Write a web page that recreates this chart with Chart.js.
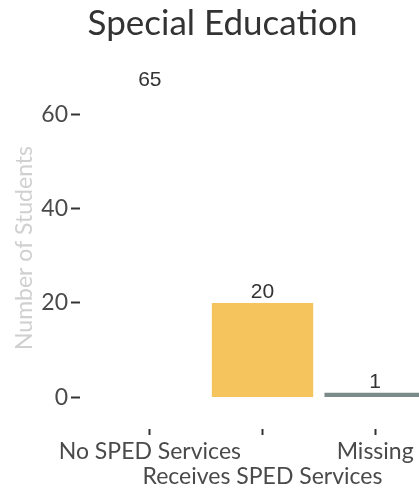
<!DOCTYPE html>
<html>
<head>
<meta charset="utf-8">
<script src="https://cdn.jsdelivr.net/npm/chart.js@4.4.0/dist/chart.umd.min.js"></script>
<style>
  html, body { margin: 0; padding: 0; background: #fff; overflow: hidden; }
  #wrap { position: absolute; left: 0; top: 0; width: 451px; height: 491px; }
</style>
</head>
<body>
<div id="wrap"><canvas id="spedChart"></canvas></div>
<script>
// data
var categories = ["No SPED Services", "Receives SPED Services", "Missing"];
var students = [65, 20, 1];
var barColors = ["#ffffff", "#f6c45c", "#7a8b89"];
var yTicks = [0, 20, 40, 60];

// value labels above the bars
var valueLabels = {
    id: "valueLabels",
    afterDatasetsDraw: function(chart) {
        var ctx = chart.ctx;
        var meta = chart.getDatasetMeta(0);
        ctx.save();
        ctx.font = "21px 'Liberation Sans', Arial, sans-serif";
        ctx.fillStyle = "#333333";
        ctx.textAlign = "center";
        ctx.textBaseline = "alphabetic";
        meta.data.forEach(function(bar, i) {
            ctx.fillText(students[i], bar.x, bar.y - 5);
        });
        ctx.restore();
    }
};

new Chart("spedChart", {
    type: "bar",
    data: {
        datasets: [{
            data: students.map(function(v, i) { return { x: i, y: v }; }),
            backgroundColor: barColors,
            barPercentage: 0.9,
            categoryPercentage: 1
        }]
    },
    options: {
        responsive: true,
        maintainAspectRatio: false,
        animation: false,
        layout: { padding: { left: 0, right: 6, top: 0, bottom: 0 } },
        plugins: {
            legend: { display: false },
            tooltip: { enabled: false },
            title: {
                display: true,
                text: "Special Education",
                color: "#333333",
                font: { family: "Lato", size: 35, weight: "normal" },
                padding: { top: 3, bottom: 22 }
            }
        },
        scales: {
            x: {
                type: "linear",
                offset: false,
                min: -0.62,
                max: 2.62,
                afterBuildTicks: function(scale) {
                    scale.ticks = categories.map(function(c, i) { return { value: i }; });
                },
                afterFit: function(scale) { scale.height = 62; },
                grid: { offset: false, drawOnChartArea: false, tickLength: 6, tickWidth: 2, tickColor: "#333333" },
                border: { display: false },
                ticks: {
                    autoSkip: false,
                    maxRotation: 0,
                    padding: 4,
                    color: "#4a4a4a",
                    font: { family: "Lato", size: 23, lineHeight: 1.087 },
                    callback: function(value) {
                        var name = categories[value];
                        return value % 2 === 1 ? ["", name] : name;
                    }
                }
            },
            y: {
                min: -6.7,
                max: 70,
                afterBuildTicks: function(scale) {
                    scale.ticks = yTicks.map(function(v) { return { value: v }; });
                },
                afterFit: function(scale) { scale.width = 80; },
                grid: { drawOnChartArea: false, tickLength: 9, tickWidth: 2, tickColor: "#333333" },
                border: { display: false },
                ticks: {
                    padding: 3,
                    color: "#4a4a4a",
                    font: { family: "Lato", size: 23 }
                },
                title: {
                    display: true,
                    text: "Number of Students",
                    color: "#d0d0d0",
                    font: { family: "Lato", size: 23 },
                    padding: { top: 11, bottom: 0 }
                }
            }
        }
    },
    plugins: [valueLabels]
});
</script>
</body>
</html>
